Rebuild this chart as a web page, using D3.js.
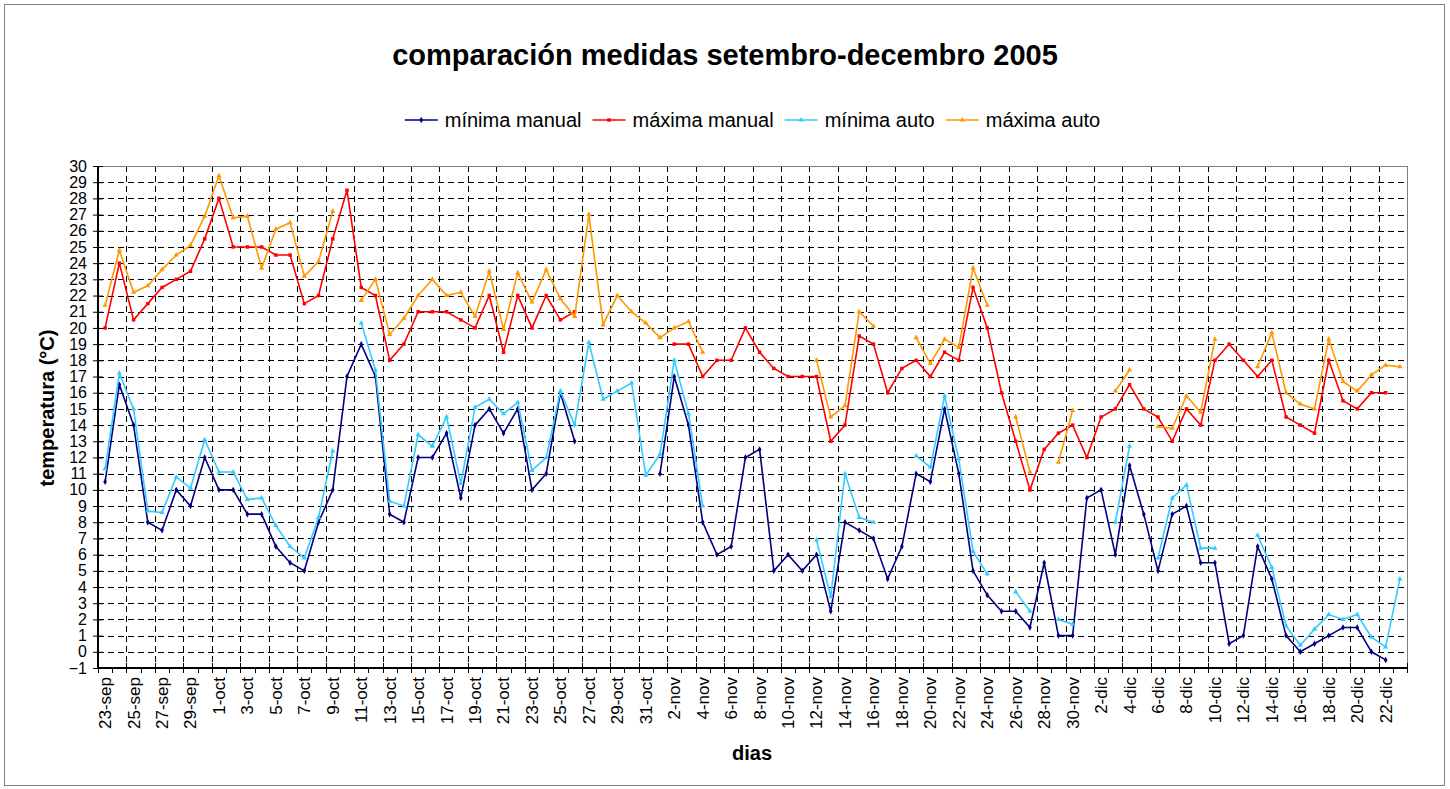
<!DOCTYPE html>
<html>
<head>
<meta charset="utf-8">
<style>
  body { margin: 0; background: #fff; }
</style>
</head>
<body>
<script src="https://cdn.jsdelivr.net/npm/d3@7"></script>
<script>
    let days = ["23-sep","24-sep","25-sep","26-sep","27-sep","28-sep","29-sep","30-sep",
        "1-oct","2-oct","3-oct","4-oct","5-oct","6-oct","7-oct","8-oct","9-oct","10-oct",
        "11-oct","12-oct","13-oct","14-oct","15-oct","16-oct","17-oct","18-oct","19-oct","20-oct",
        "21-oct","22-oct","23-oct","24-oct","25-oct","26-oct","27-oct","28-oct","29-oct","30-oct","31-oct",
        "1-nov","2-nov","3-nov","4-nov","5-nov","6-nov","7-nov","8-nov","9-nov","10-nov",
        "11-nov","12-nov","13-nov","14-nov","15-nov","16-nov","17-nov","18-nov","19-nov","20-nov",
        "21-nov","22-nov","23-nov","24-nov","25-nov","26-nov","27-nov","28-nov","29-nov","30-nov",
        "1-dic","2-dic","3-dic","4-dic","5-dic","6-dic","7-dic","8-dic","9-dic","10-dic",
        "11-dic","12-dic","13-dic","14-dic","15-dic","16-dic","17-dic","18-dic","19-dic","20-dic",
        "21-dic","22-dic","23-dic"]

    let minManual = [10.5, 16.5, 14, 8, 7.5, 10, 9, 12, 10, 10,
        8.5, 8.5, 6.5, 5.5, 5, 8, 10, 17, 19, 17,
        8.5, 8, 12, 12, 13.5, 9.5, 14, 15, 13.5, 15,
        10, 11, 16, 13, null, null, null, null, null, 11,
        17, 14, 8, 6, 6.5, 12, 12.5, 5, 6, 5,
        6, 2.5, 8, 7.5, 7, 4.5, 6.5, 11, 10.5, 15,
        11, 5, 3.5, 2.5, 2.5, 1.5, 5.5, 1, 1, 9.5,
        10, 6, 11.5, 8.5, 5, 8.5, 9, 5.5, 5.5, 0.5,
        1, 6.5, 4.5, 1, 0, 0.5, 1, 1.5, 1.5, 0,
        -0.5, null]

    let maxManual = [20, 24, 20.5, 21.5, 22.5, 23, 23.5, 25.5, 28, 25,
        25, 25, 24.5, 24.5, 21.5, 22, 25.5, 28.5, 22.5, 22,
        18, 19, 21, 21, 21, 20.5, 20, 22, 18.5, 22,
        20, 22, 20.5, 21, null, null, null, null, null, null,
        19, 19, 17, 18, 18, 20, 18.5, 17.5, 17, 17,
        17, 13, 14, 19.5, 19, 16, 17.5, 18, 17, 18.5,
        18, 22.5, 20, 16, 13, 10, 12.5, 13.5, 14, 12,
        14.5, 15, 16.5, 15, 14.5, 13, 15, 14, 18, 19,
        18, 17, 18, 14.5, 14, 13.5, 18, 15.5, 15, 16,
        16, null]

    let minAuto = [11.3, 17.2, 15.0, 8.7, 8.6, 10.8, 10.1, 13.1, 11.1, 11.1,
        9.4, 9.5, 7.8, 6.5, 5.8, 8.3, 12.4, null, 20.3, 17.4,
        9.3, 9.0, 13.4, 12.7, 14.5, 10.4, 15.1, 15.6, 14.7, 15.4,
        11.2, 12.0, 16.1, 14.0, 19.1, 15.6, 16.1, 16.6, 10.9, 12.2,
        18.0, 14.7, 9.0, null, null, null, null, null, null, null,
        6.9, 3.4, 11.0, 8.3, 8.0, null, null, 12.1, 11.4, 15.8,
        11.9, 6.2, 4.8, null, 3.7, 2.5, null, 2.0, 1.7, null,
        null, 8.0, 12.7, null, 5.8, 9.5, 10.3, 6.4, 6.4, null,
        null, 7.2, 5.2, 1.6, 0.4, 1.4, 2.3, 2.0, 2.3, 0.9,
        0.3, 4.5]

    let maxAuto = [21.4, 24.8, 22.2, 22.6, 23.6, 24.5, 25.1, 26.9, 29.4, 26.8,
        26.9, 23.7, 26.1, 26.5, 23.2, 24.1, 27.2, null, 21.7, 23.0,
        19.6, 20.6, 22.0, 23.0, 22.0, 22.2, 20.7, 23.5, 19.9, 23.4,
        21.6, 23.6, 21.8, 20.7, 27.0, 20.2, 22.0, 21.0, 20.3, 19.4,
        20.0, 20.4, 18.5, null, null, null, null, null, null, null,
        18.0, 14.5, 15.2, 21.0, 20.1, null, null, 19.4, 17.8, 19.3,
        18.8, 23.7, 21.4, null, 14.5, 11.1, null, 11.7, 14.9, null,
        null, 16.1, 17.4, null, 13.9, 13.8, 15.8, 14.8, 19.3, null,
        null, 17.6, 19.7, 16.0, 15.3, 15.0, 19.3, 16.7, 16.1, 17.1,
        17.7, 17.6]

    let seriesNames = ["mínima manual", "máxima manual", "mínima auto", "máxima auto"]
    let seriesColors = ["#000080", "#ff0000", "#33ccff", "#ff9900"]
    let seriesData = [minManual, maxManual, minAuto, maxAuto]
    let yTicks = d3.range(-1, 31)

    let W = 1450, H = 789
    let pLeft = 98, pTop = 166, pRight = 1407, pBottom = 668
    let font = "'Liberation Sans', Arial, sans-serif"

    let svg = d3.select("body").append("svg")
        .attr("width", W).attr("height", H)
        .style("font-family", font)

    svg.append("rect").attr("x", 4.5).attr("y", 4.5).attr("width", 1440).attr("height", 781)
        .attr("fill", "#fff").attr("stroke", "#808080")

    let x = d3.scaleBand().domain(days).range([pLeft, pRight])
    let y = d3.scaleLinear().domain([-1, 30]).range([pBottom, pTop])
    let cx = i => x(days[i]) + x.bandwidth() / 2

    // grella
    let grid = svg.append("g").attr("stroke", "#000").attr("stroke-width", 1)
        .attr("stroke-dasharray", "6,4").attr("shape-rendering", "crispEdges")
    grid.selectAll(".h").data(yTicks.filter(v => v > -1 && v < 30)).enter().append("line")
        .attr("x1", pLeft).attr("x2", pRight)
        .attr("y1", d => Math.round(y(d)) + 0.5).attr("y2", d => Math.round(y(d)) + 0.5)
    let vLines = d3.range(2, days.length, 2)
    grid.selectAll(".v").data(vLines).enter().append("line")
        .attr("y1", pTop).attr("y2", pBottom)
        .attr("x1", d => Math.round(x(days[d])) + 0.5).attr("x2", d => Math.round(x(days[d])) + 0.5)

    svg.append("line").attr("x1", pLeft).attr("x2", pRight).attr("y1", pTop + 0.5).attr("y2", pTop + 0.5)
        .attr("stroke", "#808080")
    svg.append("line").attr("x1", pRight + 0.5).attr("x2", pRight + 0.5).attr("y1", pTop).attr("y2", pBottom)
        .attr("stroke", "#808080")

    // eixo Y
    let yAxis = svg.append("g").attr("transform", `translate(${pLeft},0)`)
        .call(d3.axisLeft(y).tickValues(yTicks).tickSize(5).tickPadding(6))
    yAxis.select(".domain").remove()
    yAxis.selectAll(".tick line").attr("x1", 5).attr("stroke", "#000")
    yAxis.selectAll("text").attr("font-size", 16).attr("font-family", font).attr("fill", "#000")

    // eixo X
    let xAxis = svg.append("g").attr("transform", `translate(0,${pBottom})`)
        .call(d3.axisBottom(x).tickSize(0).tickFormat((d, i) => i % 2 == 0 ? d : ""))
    xAxis.select(".domain").remove()
    xAxis.selectAll("text")
        .attr("font-size", 17).attr("font-family", font).attr("fill", "#000")
        .attr("transform", "rotate(-90)").attr("y", 0).attr("x", -9).attr("dy", "0.35em")
        .style("text-anchor", "end")
    svg.selectAll(".xt").data(d3.range(0, days.length + 1)).enter().append("line")
        .attr("x1", d => Math.round(x.step() * d + pLeft) + 0.5).attr("x2", d => Math.round(x.step() * d + pLeft) + 0.5)
        .attr("y1", d => d % 2 == 0 ? pBottom - 5 : pBottom).attr("y2", d => pBottom + 5)
        .attr("stroke", "#000")

    svg.append("line").attr("x1", pLeft).attr("x2", pLeft).attr("y1", pTop).attr("y2", pBottom + 1)
        .attr("stroke", "#000").attr("stroke-width", 2)
    svg.append("line").attr("x1", pLeft - 1).attr("x2", pRight + 1).attr("y1", pBottom).attr("y2", pBottom)
        .attr("stroke", "#000").attr("stroke-width", 2)

    // series
    let line = d3.line().defined(v => v != null).x((v, i) => cx(i)).y(v => y(v))
    let symbols = [d3.symbolDiamond, d3.symbolSquare, d3.symbolTriangle, d3.symbolTriangle]
    seriesData.forEach((s, k) => {
        svg.append("path").datum(s).attr("d", line)
            .attr("fill", "none").attr("stroke", seriesColors[k]).attr("stroke-width", 1.6)
        svg.append("g").selectAll("path")
            .data(s.map((v, i) => [i, v]).filter(p => p[1] != null)).enter().append("path")
            .attr("d", d3.symbol().type(symbols[k]).size(12))
            .attr("transform", p => `translate(${cx(p[0])},${y(p[1])})`)
            .attr("fill", seriesColors[k])
    })

    // titulos
    svg.append("text").attr("x", 725).attr("y", 65).attr("text-anchor", "middle")
        .attr("font-size", 29).attr("font-weight", "bold").text("comparación medidas setembro-decembro 2005")
    svg.append("text").attr("transform", "translate(54,408) rotate(-90)").attr("text-anchor", "middle")
        .attr("font-size", 20).attr("font-weight", "bold").text("temperatura (°C)")
    svg.append("text").attr("x", 752).attr("y", 760).attr("text-anchor", "middle")
        .attr("font-size", 20).attr("font-weight", "bold").text("dias")

    // lenda
    let legend = svg.append("g")
    let lx = 0
    seriesNames.forEach((name, k) => {
        let g = legend.append("g").attr("transform", `translate(${lx},0)`)
        g.append("line").attr("x1", 0).attr("x2", 33).attr("y1", 120).attr("y2", 120)
            .attr("stroke", seriesColors[k]).attr("stroke-width", 1.6)
        g.append("path").attr("d", d3.symbol().type(symbols[k]).size(12)())
            .attr("transform", "translate(16.5,120)").attr("fill", seriesColors[k])
        let t = g.append("text").attr("x", 40).attr("y", 127).attr("font-size", 20).text(name)
        lx += 40 + t.node().getComputedTextLength() + 11
    })
    let lw = lx - 11
    legend.attr("transform", `translate(${(pLeft + pRight) / 2 - lw / 2},0)`)
</script>
</body>
</html>
